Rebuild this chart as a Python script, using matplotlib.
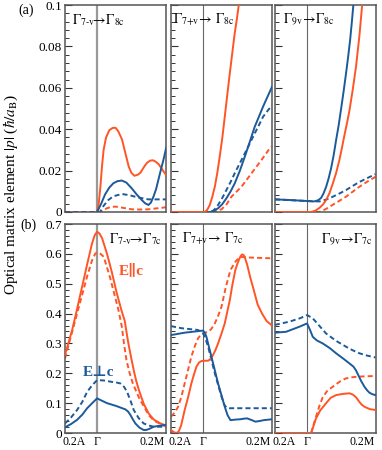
import matplotlib
matplotlib.use('Agg')
import matplotlib.pyplot as plt
from matplotlib.ticker import MultipleLocator

plt.rcParams['font.family'] = ['Liberation Serif', 'DejaVu Serif']
plt.rcParams['mathtext.fontset'] = 'stix'

RED = '#ff5526'
BLUE = '#1c5a9a'

# k-path position: negative = towards A, positive = towards M, 0 = Gamma
# ---- (a) top row ----
a1_rs_x = [0, 0.01, 0.02, 0.03, 0.04, 0.055, 0.075, 0.095, 0.113, 0.13, 0.153, 0.175, 0.194, 0.21,
           0.229, 0.25, 0.266, 0.29, 0.307, 0.325, 0.342, 0.36, 0.379, 0.40, 0.424]
a1_rs_y = [0, 0.004, 0.012, 0.022, 0.030, 0.036, 0.0395, 0.0406, 0.0407, 0.039, 0.035, 0.028, 0.022, 0.019,
           0.0175, 0.018, 0.019, 0.022, 0.0238, 0.0248, 0.025, 0.0243, 0.023, 0.0205, 0.0178]
a1_rd_x = [-0.197, 0, 0.018, 0.04, 0.06, 0.085, 0.11, 0.135, 0.16, 0.213, 0.26, 0.315, 0.37, 0.424]
a1_rd_y = [0, 0, 0, 0.001, 0.0018, 0.0024, 0.0026, 0.0024, 0.002, 0.0013, 0.0012, 0.0013, 0.0018, 0.0023]
a1_bs_x = [0, 0.025, 0.049, 0.075, 0.1, 0.125, 0.152, 0.18, 0.213, 0.245, 0.274, 0.295, 0.315, 0.33,
           0.346, 0.362, 0.376, 0.392, 0.407, 0.424]
a1_bs_y = [0, 0.004, 0.0085, 0.0118, 0.0139, 0.0149, 0.0152, 0.0142, 0.0114, 0.0083, 0.0058, 0.0042, 0.0034,
           0.0045, 0.0074, 0.011, 0.0155, 0.0205, 0.0251, 0.031]
a1_bd_x = [-0.197, 0, 0.018, 0.04, 0.069, 0.1, 0.152, 0.2, 0.233, 0.28, 0.315, 0.424]
a1_bd_y = [0, 0, 0, 0.003, 0.0058, 0.0076, 0.0087, 0.0081, 0.0074, 0.0066, 0.0061, 0.0061]

a2_rs_x = [-0.197, 0.01, 0.025, 0.041, 0.056, 0.072, 0.087, 0.102, 0.118, 0.133, 0.148, 0.164, 0.179,
           0.194, 0.207, 0.219, 0.235]
a2_rs_y = [0, 0, 0.001, 0.0034, 0.0072, 0.0122, 0.0188, 0.0267, 0.0358, 0.046, 0.0563, 0.067, 0.0767,
           0.0863, 0.093, 0.1, 0.11]
a2_rd_x = [-0.197, 0.051, 0.08, 0.113, 0.145, 0.174, 0.205, 0.235, 0.266, 0.297, 0.328, 0.358, 0.388, 0.417]
a2_rd_y = [0, 0, 0.0004, 0.0013, 0.0038, 0.0074, 0.0098, 0.0122, 0.0154, 0.0187, 0.0219, 0.0251, 0.0284, 0.0316]
a2_bs_x = [0.041, 0.065, 0.092, 0.118, 0.143, 0.17, 0.194, 0.225, 0.256, 0.287, 0.317, 0.343, 0.368, 0.395, 0.423]
a2_bs_y = [0, 0.0005, 0.0018, 0.0038, 0.0066, 0.0101, 0.0138, 0.0198, 0.0267, 0.034, 0.0412, 0.0461, 0.0509,
           0.0556, 0.0605]
a2_bd_x = [-0.197, 0.051, 0.07, 0.092, 0.118, 0.143, 0.17, 0.194, 0.225, 0.256, 0.287, 0.317, 0.343,
           0.368, 0.395, 0.423]
a2_bd_y = [0, 0, 0.0012, 0.0034, 0.0068, 0.0106, 0.0147, 0.0187, 0.0235, 0.0283, 0.0332, 0.038, 0.042,
           0.046, 0.0488, 0.0515]

a3_rs_x = [-0.198, 0.025, 0.05, 0.076, 0.097, 0.117, 0.138, 0.158, 0.178, 0.198, 0.214, 0.229, 0.245,
           0.26, 0.28, 0.30, 0.321, 0.338, 0.352]
a3_rs_y = [0, 0, 0.0006, 0.002, 0.0036, 0.0058, 0.0092, 0.0138, 0.0188, 0.025, 0.031, 0.037, 0.043,
           0.049, 0.059, 0.070, 0.085, 0.1, 0.112]
a3_rd_x = [-0.198, 0.076, 0.117, 0.158, 0.2, 0.239, 0.28, 0.321, 0.37, 0.42]
a3_rd_y = [0, 0, 0.0015, 0.0035, 0.0055, 0.0074, 0.0098, 0.0122, 0.0147, 0.017]
a3_bs_x = [-0.198, -0.108, 0, 0.04, 0.055, 0.07, 0.086, 0.1, 0.117, 0.132, 0.147, 0.163, 0.178, 0.194,
           0.209, 0.224, 0.239, 0.252, 0.264, 0.275, 0.284, 0.30]
a3_bs_y = [0.0061, 0.0058, 0.0053, 0.0051, 0.0053, 0.0058, 0.0068, 0.0088, 0.0122, 0.0162, 0.021, 0.0274,
           0.0347, 0.042, 0.05, 0.0582, 0.0669, 0.075, 0.083, 0.092, 0.1, 0.112]
a3_bd_x = [-0.198, 0, 0.076, 0.117, 0.158, 0.2, 0.239, 0.28, 0.321, 0.37, 0.42]
a3_bd_y = [0.0061, 0.0053, 0.0051, 0.006, 0.0074, 0.009, 0.0106, 0.0126, 0.0145, 0.0164, 0.0183]

# ---- (b) bottom row ----
b1_rs_x = [-0.197, -0.153, -0.123, -0.092, -0.061, -0.031, -0.015, 0, 0.015, 0.031, 0.061, 0.09, 0.121,
           0.15, 0.17, 0.18, 0.192, 0.21, 0.225, 0.24, 0.256, 0.286, 0.317, 0.348, 0.389, 0.424]
b1_rs_y = [0.262, 0.345, 0.415, 0.49, 0.565, 0.635, 0.662, 0.674, 0.668, 0.652, 0.60, 0.54, 0.468,
           0.41, 0.375, 0.34, 0.30, 0.25, 0.21, 0.175, 0.145, 0.098, 0.065, 0.045, 0.032, 0.025]
b1_rd_x = [-0.197, -0.123, -0.061, -0.031, -0.012, 0, 0.015, 0.041, 0.08, 0.131, 0.152, 0.165, 0.18,
           0.2, 0.22, 0.24, 0.26, 0.286, 0.317, 0.348, 0.389, 0.424]
b1_rd_y = [0.25, 0.40, 0.525, 0.578, 0.6, 0.605, 0.603, 0.59, 0.52, 0.412, 0.356, 0.30, 0.245,
           0.2, 0.165, 0.14, 0.115, 0.09, 0.06, 0.042, 0.03, 0.022]
b1_bs_x = [-0.197, -0.16, -0.123, -0.09, -0.061, -0.03, 0, 0.03, 0.061, 0.12, 0.174, 0.19, 0.205, 0.22,
           0.235, 0.26, 0.286, 0.3, 0.317, 0.348, 0.39, 0.424]
b1_bs_y = [0.019, 0.03, 0.044, 0.062, 0.083, 0.1, 0.116, 0.108, 0.10, 0.09, 0.079, 0.072, 0.06, 0.045,
           0.032, 0.018, 0.010, 0.01, 0.013, 0.021, 0.025, 0.027]
b1_bd_x = [-0.197, -0.16, -0.123, -0.09, -0.061, -0.03, 0, 0.04, 0.082, 0.12, 0.143, 0.165, 0.184, 0.205,
           0.225, 0.255, 0.286, 0.318, 0.348, 0.424]
b1_bd_y = [0.032, 0.052, 0.077, 0.105, 0.138, 0.16, 0.177, 0.176, 0.172, 0.169, 0.166, 0.155, 0.138, 0.108,
           0.077, 0.05, 0.032, 0.025, 0.021, 0.021]

b2_rs_x = [-0.197, -0.18, -0.164, -0.15, -0.135, -0.113, -0.092, -0.072, -0.055, -0.041, -0.025, -0.010,
           0.01, 0.031, 0.045, 0.061, 0.076, 0.092, 0.113, 0.133, 0.148, 0.164, 0.18, 0.198, 0.21, 0.22,
           0.23, 0.239, 0.247, 0.255, 0.262, 0.27, 0.29, 0.311, 0.335, 0.362, 0.39, 0.423]
b2_rs_y = [0.01, 0.003, 0, 0.005, 0.025, 0.077, 0.12, 0.166, 0.198, 0.222, 0.236, 0.241,
           0.242, 0.242, 0.248, 0.261, 0.278, 0.30, 0.333, 0.367, 0.405, 0.445, 0.497, 0.546, 0.566, 0.58,
           0.592, 0.598, 0.597, 0.59, 0.578, 0.565, 0.52, 0.479, 0.43, 0.40, 0.375, 0.36]
b2_rd_x = [-0.197, -0.175, -0.153, -0.133, -0.113, -0.092, -0.072, -0.05, -0.031, -0.015, 0, 0.031,
           0.05, 0.072, 0.092, 0.113, 0.14, 0.168, 0.2, 0.229, 0.25, 0.27, 0.423]
b2_rd_y = [0.055, 0.068, 0.088, 0.122, 0.166, 0.212, 0.256, 0.292, 0.317, 0.328, 0.334, 0.339,
           0.348, 0.367, 0.392, 0.423, 0.49, 0.546, 0.575, 0.59, 0.589, 0.588, 0.585]
b2_bs_x = [-0.197, -0.113, -0.05, 0, 0.01, 0.02, 0.051, 0.092, 0.133, 0.15, 0.168, 0.2, 0.229, 0.25,
           0.27, 0.295, 0.321, 0.345, 0.372, 0.423]
b2_bs_y = [0.328, 0.336, 0.34, 0.343, 0.336, 0.323, 0.256, 0.166, 0.088, 0.06, 0.043, 0.045, 0.046, 0.048,
           0.049, 0.044, 0.038, 0.04, 0.043, 0.046]
b2_bd_x = [-0.197, -0.133, -0.031, 0, 0.015, 0.031, 0.072, 0.113, 0.13, 0.143, 0.16, 0.423]
b2_bd_y = [0.358, 0.351, 0.345, 0.334, 0.315, 0.289, 0.2, 0.122, 0.095, 0.085, 0.083, 0.083]

b3_rs_x = [-0.198, 0.025, 0.04, 0.055, 0.08, 0.117, 0.145, 0.178, 0.22, 0.26, 0.28, 0.30, 0.32, 0.335,
           0.352, 0.385, 0.42]
b3_rs_y = [0, 0, 0.025, 0.049, 0.075, 0.10, 0.118, 0.127, 0.131, 0.133, 0.129, 0.12, 0.105, 0.095,
           0.088, 0.08, 0.077]
b3_rd_x = [0.025, 0.04, 0.055, 0.075, 0.096, 0.125, 0.158, 0.2, 0.239, 0.28, 0.321, 0.37, 0.42]
b3_rd_y = [0, 0.028, 0.055, 0.09, 0.12, 0.142, 0.155, 0.172, 0.183, 0.187, 0.189, 0.19, 0.191]
b3_bs_x = [-0.198, -0.129, -0.047, 0, 0.018, 0.035, 0.06, 0.096, 0.14, 0.178, 0.22, 0.26, 0.285, 0.30,
           0.315, 0.331, 0.352, 0.37, 0.383, 0.4, 0.42]
b3_bs_y = [0.336, 0.339, 0.356, 0.367, 0.345, 0.322, 0.31, 0.30, 0.284, 0.267, 0.25, 0.233, 0.222, 0.21,
           0.193, 0.175, 0.155, 0.142, 0.135, 0.13, 0.127]
b3_bd_x = [-0.198, -0.108, -0.04, 0, 0.035, 0.08, 0.117, 0.18, 0.239, 0.28, 0.321, 0.37, 0.42]
b3_bd_y = [0.362, 0.373, 0.385, 0.395, 0.384, 0.356, 0.333, 0.308, 0.289, 0.277, 0.267, 0.259, 0.253]

top_labels = [r'$\Gamma_{\text{7-v}}\!\!\rightarrow\!\Gamma_{\text{8c}}$',
              r'$\Gamma_{\text{7+v}}\!\rightarrow\,\Gamma_{\text{8c}}$',
              r'$\Gamma_{\text{9v}}\!\rightarrow\!\Gamma_{\text{8c}}$']
bot_labels = [r'$\Gamma_{\text{7-v}}\!\!\rightarrow\!\Gamma_{\text{7c}}$',
              r'$\Gamma_{\text{7+v}}\!\rightarrow\,\Gamma_{\text{7c}}$',
              r'$\Gamma_{\text{9v}}\!\rightarrow\!\Gamma_{\text{7c}}$']
top_label_x = [0.07, 0.02, 0.08]
bot_label_x = [0.44, 0.11, 0.96]
k_labels = ['0.2A', 'Γ', '0.2M']

top_data = [
    (a1_rs_x, a1_rs_y, a1_rd_x, a1_rd_y, a1_bs_x, a1_bs_y, a1_bd_x, a1_bd_y),
    (a2_rs_x, a2_rs_y, a2_rd_x, a2_rd_y, a2_bs_x, a2_bs_y, a2_bd_x, a2_bd_y),
    (a3_rs_x, a3_rs_y, a3_rd_x, a3_rd_y, a3_bs_x, a3_bs_y, a3_bd_x, a3_bd_y),
]
bot_data = [
    (b1_rs_x, b1_rs_y, b1_rd_x, b1_rd_y, b1_bs_x, b1_bs_y, b1_bd_x, b1_bd_y),
    (b2_rs_x, b2_rs_y, b2_rd_x, b2_rd_y, b2_bs_x, b2_bs_y, b2_bd_x, b2_bd_y),
    (b3_rs_x, b3_rs_y, b3_rd_x, b3_rd_y, b3_bs_x, b3_bs_y, b3_bd_x, b3_bd_y),
]

W, H = 382, 450
fig = plt.figure(figsize=(W / 100, H / 100), dpi=100)
lefts = [65, 171, 275]
pw = 101
DASH = (0, (2.6, 1.6))


def style(ax, ymax, major, minor, first):
    ax.set_xlim(-0.197, 0.423)
    ax.set_ylim(0, ymax)
    for s in ax.spines.values():
        s.set_color('#555555')
        s.set_linewidth(1.1)
    ax.yaxis.set_major_locator(MultipleLocator(major))
    ax.yaxis.set_minor_locator(MultipleLocator(minor))
    ax.tick_params(axis='y', which='major', direction='in', length=5, width=0.8,
                   color='#333333', labelsize=9.5, pad=2, labelleft=first)
    ax.tick_params(axis='y', which='minor', direction='in', length=3, width=0.7, color='#333333')


def draw(ax, d, thick_gamma):
    rsx, rsy, rdx, rdy, bsx, bsy, bdx, bdy = d
    if thick_gamma:
        ax.axvline(0, color='#999999', lw=1.6, zorder=1)
    else:
        ax.axvline(0, color='#666666', lw=0.8, zorder=1)
    ax.plot(rdx, rdy, color=RED, lw=1.4, ls=DASH, zorder=2)
    ax.plot(bdx, bdy, color=BLUE, lw=1.4, ls=DASH, zorder=2)
    ax.plot(rsx, rsy, color=RED, lw=1.4, zorder=3)
    ax.plot(bsx, bsy, color=BLUE, lw=1.4, zorder=3)


for i in range(3):
    ax = fig.add_axes([lefts[i] / W, 1 - 212 / H, pw / W, 207 / H])
    draw(ax, top_data[i], i == 0)
    style(ax, 0.1, 0.02, 0.004, i == 0)
    ax.set_xticks([])
    if i == 0:
        ax.set_yticks([0, 0.02, 0.04, 0.06, 0.08, 0.1])
        ax.set_yticklabels(['0', '0.02', '0.04', '0.06', '0.08', '0.1'])
    ax.text(top_label_x[i], 0.965, top_labels[i], transform=ax.transAxes, fontsize=10,
            ha='left', va='top')

for i in range(3):
    ax = fig.add_axes([lefts[i] / W, 1 - 433 / H, pw / W, 209 / H])
    draw(ax, bot_data[i], i == 0)
    style(ax, 0.7, 0.1, 0.02, i == 0)
    if i == 0:
        ax.set_yticks([0, 0.1, 0.2, 0.3, 0.4, 0.5, 0.6, 0.7])
        ax.set_yticklabels(['0', '0.1', '0.2', '0.3', '0.4', '0.5', '0.6', '0.7'])
    ax.set_xticks([-0.14, 0, 0.335])
    ax.set_xticklabels(k_labels)
    ax.tick_params(axis='x', length=0, labelsize=8.5, pad=2)
    ax.text(bot_label_x[i], 0.965, bot_labels[i], transform=ax.transAxes, fontsize=10,
            ha='right' if i == 2 else 'left', va='top')
    if i == 0:
        ax.text(0.66, 0.78, 'E\u2225c', transform=ax.transAxes, color=RED,
                fontsize=11, fontweight='bold', ha='center', va='center')
        ax.text(0.33, 0.29, 'E\u22a5c', transform=ax.transAxes, color=BLUE,
                fontsize=11, fontweight='bold', ha='center', va='center')

fig.text(26 / W, 1 - 10 / H, '(a)', fontsize=10, ha='center', va='center')
fig.text(28 / W, 1 - 225 / H, '(b)', fontsize=10, ha='center', va='center')
fig.text(11 / W, 1 - 195 / H, r'Optical matrix element $|p|$ ($\hbar/a_{\rm B}$)',
         rotation=90, fontsize=11, ha='center', va='center')

fig.savefig('out.png', dpi=100)
